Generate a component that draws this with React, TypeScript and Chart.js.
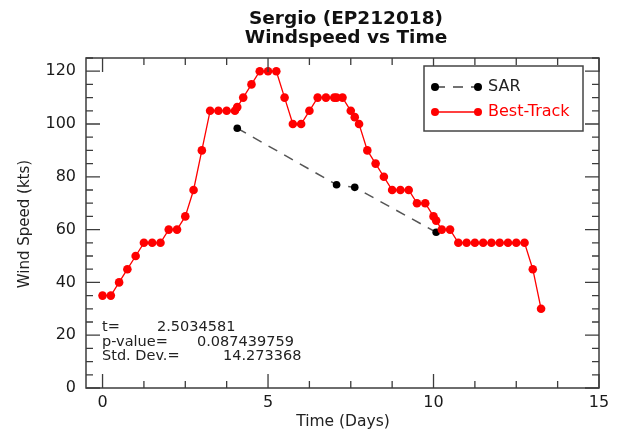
import React, { useEffect, useRef } from "react";
import { Chart, registerables } from "chart.js";

Chart.register(...registerables);

const titleLines = ["Sergio (EP212018)", "Windspeed vs Time"];
const xTitle = "Time (Days)";
const yTitle = "Wind Speed (kts)";

const bestTime = [
  0, 0.25, 0.5, 0.75, 1.0, 1.25, 1.5, 1.75, 2.0, 2.25, 2.5, 2.75, 3.0, 3.25, 3.5, 3.75, 4.0, 4.07,
  4.25, 4.5, 4.75, 5.0, 5.25, 5.5, 5.75, 6.0, 6.25, 6.5, 6.75, 7.0, 7.07, 7.25, 7.5, 7.62, 7.75,
  8.0, 8.25, 8.5, 8.75, 9.0, 9.25, 9.5, 9.75, 10.0, 10.08, 10.25, 10.5, 10.75, 11.0, 11.25, 11.5,
  11.75, 12.0, 12.25, 12.5, 12.75, 13.0, 13.25,
];
const bestWind = [
  35, 35, 40, 45, 50, 55, 55, 55, 60, 60, 65, 75, 90, 105, 105, 105, 105, 106.4,
  110, 115, 120, 120, 120, 110, 100, 100, 105, 110, 110, 110, 110, 110, 105, 102.6, 100,
  90, 85, 80, 75, 75, 75, 70, 70, 65, 63.4, 60, 60, 55, 55, 55, 55,
  55, 55, 55, 55, 55, 45, 30,
];

const sarTime = [4.07, 7.07, 7.62, 10.08];
const sarWind = [98.4, 77, 76, 59];

const xTicks = [0, 5, 10, 15];
const yTicks = [0, 20, 40, 60, 80, 100, 120];

const statLabels = ["t=", "p-value=", "Std. Dev.="];
const statValues = ["2.5034581", "0.087439759", "14.273368"];

const legendLabels = ["SAR", "Best-Track"];

const FONT = "'DejaVu Sans', sans-serif";
const AXIS = "#3c3c3c";

const decorPlugin = {
  id: "decor",
  afterDraw(chart: any) {
    const ctx = chart.ctx as CanvasRenderingContext2D;
    const a = chart.chartArea;
    const xs = chart.scales.x;
    const ys = chart.scales.y;
    ctx.save();
    // frame
    ctx.strokeStyle = AXIS;
    ctx.lineWidth = 1.5;
    ctx.strokeRect(a.left, a.top, a.right - a.left, a.bottom - a.top);
    // x ticks (inward, top & bottom)
    ctx.lineWidth = 1.3;
    for (let v = 0; v <= 15.001; v += 1.25) {
      const major = Math.abs(v / 5 - Math.round(v / 5)) < 1e-6;
      const len = major ? 14 : 7;
      const px = xs.getPixelForValue(v);
      ctx.beginPath();
      ctx.moveTo(px, a.bottom);
      ctx.lineTo(px, a.bottom - len);
      ctx.moveTo(px, a.top);
      ctx.lineTo(px, a.top + len);
      ctx.stroke();
    }
    // y ticks (inward, left & right)
    for (let v = 0; v <= 125; v += 5) {
      const major = v % 20 === 0;
      const len = major ? 14 : 7;
      const py = ys.getPixelForValue(v);
      ctx.beginPath();
      ctx.moveTo(a.left, py);
      ctx.lineTo(a.left + len, py);
      ctx.moveTo(a.right, py);
      ctx.lineTo(a.right - len, py);
      ctx.stroke();
    }
    // title
    ctx.fillStyle = "#111";
    ctx.textAlign = "center";
    ctx.textBaseline = "middle";
    ctx.font = `bold 18.5px ${FONT}`;
    ctx.fillText(titleLines[0], 346, 19);
    ctx.fillText(titleLines[1], 346, 38);
    // axis titles
    ctx.fillStyle = "#222";
    ctx.font = `15.5px ${FONT}`;
    ctx.fillText(xTitle, 343, 422);
    ctx.save();
    ctx.translate(25, 224);
    ctx.rotate(-Math.PI / 2);
    ctx.font = `15px ${FONT}`;
    ctx.fillText(yTitle, 0, 0);
    ctx.restore();
    // stats text
    ctx.textAlign = "left";
    ctx.font = `14.5px ${FONT}`;
    ctx.fillStyle = "#222";
    const sy = [327, 342, 356];
    const vx = [157, 197, 223];
    for (let i = 0; i < statLabels.length; i++) {
      ctx.fillText(statLabels[i], 102, sy[i]);
      ctx.fillText(statValues[i], vx[i], sy[i]);
    }
    // legend
    const lx = 424, ly = 66, lw = 159, lh = 65;
    ctx.fillStyle = "#fff";
    ctx.fillRect(lx, ly, lw, lh);
    ctx.strokeStyle = "#444";
    ctx.lineWidth = 1.5;
    ctx.strokeRect(lx, ly, lw, lh);
    const rows = [
      { y: 87, color: "#000", line: "#444", dash: [10, 8], text: "#222" },
      { y: 112, color: "#ff0000", line: "#ff0000", dash: [], text: "#ff0000" },
    ];
    rows.forEach((r, i) => {
      ctx.strokeStyle = r.line;
      ctx.lineWidth = 1.5;
      ctx.setLineDash(r.dash);
      ctx.beginPath();
      ctx.moveTo(435, r.y);
      ctx.lineTo(478, r.y);
      ctx.stroke();
      ctx.setLineDash([]);
      ctx.fillStyle = r.color;
      [435, 478].forEach((px) => {
        ctx.beginPath();
        ctx.arc(px, r.y, 4, 0, Math.PI * 2);
        ctx.fill();
      });
      ctx.fillStyle = r.text;
      ctx.font = `16px ${FONT}`;
      ctx.textAlign = "left";
      ctx.textBaseline = "middle";
      ctx.fillText(legendLabels[i], 488, r.y);
    });
    ctx.restore();
  },
};

export default function App() {
  const ref = useRef<HTMLCanvasElement | null>(null);
  useEffect(() => {
    if (!ref.current) return;
    const best = bestTime.map((t, i) => ({ x: t, y: bestWind[i] }));
    const sar = sarTime.map((t, i) => ({ x: t, y: sarWind[i] }));
    const chart = new Chart(ref.current, {
      type: "scatter",
      data: {
        datasets: [
          {
            label: legendLabels[1],
            data: best,
            showLine: true,
            borderColor: "#ff0000",
            backgroundColor: "#ff0000",
            borderWidth: 1.3,
            pointRadius: 4.3,
            pointBorderWidth: 0,
            pointBackgroundColor: "#ff0000",
          },
          {
            label: legendLabels[0],
            data: sar,
            showLine: true,
            borderColor: "#555",
            backgroundColor: "#000",
            borderWidth: 1.5,
            borderDash: [10, 8],
            pointRadius: 3.8,
            pointBorderWidth: 0,
            pointBackgroundColor: "#000",
          },
        ],
      },
      options: {
        animation: false,
        responsive: false,
        maintainAspectRatio: false,
        layout: { padding: { left: 0, right: 18, top: 58, bottom: 0 } },
        plugins: { legend: { display: false }, title: { display: false }, tooltip: { enabled: false } },
        scales: {
          x: {
            type: "linear",
            min: -0.5,
            max: 15,
            grid: { display: false, drawTicks: false },
            border: { display: false },
            ticks: {
              includeBounds: false,
              stepSize: 5,
              padding: 5,
              color: "#1a1a1a",
              font: { family: FONT, size: 16 },
              maxRotation: 0,
            },
            afterBuildTicks: (s: any) => {
              s.ticks = xTicks.map((v) => ({ value: v }));
            },
            afterFit: (s: any) => {
              s.height = 43;
            },
          },
          y: {
            type: "linear",
            min: 0,
            max: 125,
            grid: { display: false, drawTicks: false },
            border: { display: false },
            ticks: {
              includeBounds: false,
              stepSize: 20,
              padding: 10,
              color: "#1a1a1a",
              font: { family: FONT, size: 16 },
            },
            afterBuildTicks: (s: any) => {
              s.ticks = yTicks.map((v) => ({ value: v }));
            },
            afterFit: (s: any) => {
              s.width = 86;
            },
          },
        },
      },
      plugins: [decorPlugin],
    });
    return () => chart.destroy();
  }, []);
  return (
    <div style={{ position: "fixed", left: 0, top: 0, width: 617, height: 431, background: "#fff" }}>
      <canvas ref={ref} width={617} height={431} style={{ width: 617, height: 431 }} />
    </div>
  );
}
